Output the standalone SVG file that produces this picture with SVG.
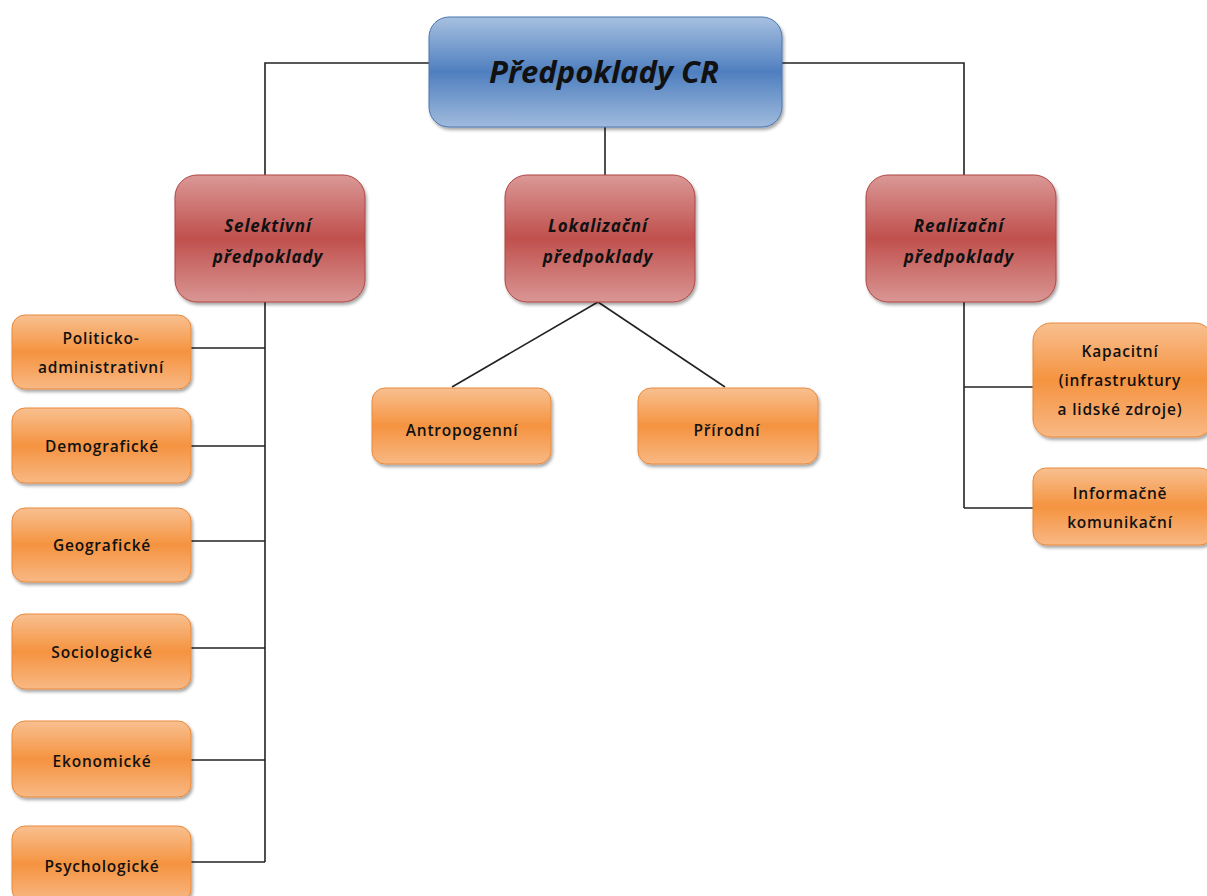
<svg xmlns="http://www.w3.org/2000/svg" width="1207" height="896" viewBox="0 0 1207 896">
<style>
.t{font-family:"Open Sans","Liberation Sans",sans-serif;fill:#111;text-anchor:middle}
.title{font-size:31px;font-weight:bold;font-style:italic}
.mid{font-size:17px;font-weight:bold;font-style:italic;letter-spacing:0.9px}
.leaf{font-size:15.5px;font-weight:600;letter-spacing:0.8px}
.conn{stroke:#222;stroke-width:1.6;fill:none}
</style>
<defs>
<linearGradient id="gb" x1="0" y1="0" x2="0" y2="1">
<stop offset="0" stop-color="#a7c0e0"/><stop offset="0.5" stop-color="#4f7fbf"/><stop offset="1" stop-color="#a0bbdd"/>
</linearGradient>
<linearGradient id="gr" x1="0" y1="0" x2="0" y2="1">
<stop offset="0" stop-color="#da9896"/><stop offset="0.5" stop-color="#c0504d"/><stop offset="1" stop-color="#d99694"/>
</linearGradient>
<linearGradient id="go" x1="0" y1="0" x2="0" y2="1">
<stop offset="0" stop-color="#f8c090"/><stop offset="0.5" stop-color="#f59340"/><stop offset="1" stop-color="#f8b884"/>
</linearGradient>
<filter id="sh" x="-10%" y="-10%" width="125%" height="130%">
<feDropShadow dx="1.5" dy="2.5" stdDeviation="1.5" flood-color="#000" flood-opacity="0.35"/>
</filter>
</defs>
<g id="connectors">
<polyline class="conn" points="429,63 265,63 265,175"/>
<polyline class="conn" points="782,63 964,63 964,175"/>
<line class="conn" x1="605" y1="127" x2="605" y2="175"/>
<line class="conn" x1="265" y1="302" x2="265" y2="862"/>
<line class="conn" x1="191" y1="348" x2="265" y2="348"/>
<line class="conn" x1="191" y1="446" x2="265" y2="446"/>
<line class="conn" x1="191" y1="541" x2="265" y2="541"/>
<line class="conn" x1="191" y1="648" x2="265" y2="648"/>
<line class="conn" x1="191" y1="760" x2="265" y2="760"/>
<line class="conn" x1="191" y1="862" x2="265" y2="862"/>
<line class="conn" x1="598" y1="302" x2="452" y2="387"/>
<line class="conn" x1="598" y1="302" x2="725" y2="387"/>
<line class="conn" x1="964" y1="302" x2="964" y2="508"/>
<line class="conn" x1="964" y1="387" x2="1033" y2="387"/>
<line class="conn" x1="964" y1="508" x2="1033" y2="508" stroke="#666" stroke-width="2.4"/>
</g>
<g id="root"><rect x="429" y="17" width="353" height="110" rx="20" fill="url(#gb)" stroke="#4a76b0" stroke-width="1" filter="url(#sh)"/><text class="t title" x="604" y="83">Předpoklady CR</text></g>
<g id="selektivni"><rect x="175" y="175" width="190" height="127" rx="22" fill="url(#gr)" stroke="#b04542" filter="url(#sh)"/><text class="t mid" x="268" y="232">Selektivní</text><text class="t mid" x="268" y="263">předpoklady</text></g>
<g id="lokalizacni"><rect x="505" y="175" width="190" height="127" rx="22" fill="url(#gr)" stroke="#b04542" filter="url(#sh)"/><text class="t mid" x="598" y="232">Lokalizační</text><text class="t mid" x="598" y="263">předpoklady</text></g>
<g id="realizacni"><rect x="866" y="175" width="190" height="127" rx="22" fill="url(#gr)" stroke="#b04542" filter="url(#sh)"/><text class="t mid" x="959" y="232">Realizační</text><text class="t mid" x="959" y="263">předpoklady</text></g>
<g id="politicko"><rect x="12" y="315" width="179" height="74" rx="13" fill="url(#go)" stroke="#e88a3c" filter="url(#sh)"/><text class="t leaf" x="101" y="344">Politicko-</text><text class="t leaf" x="101" y="373">administrativní</text></g>
<g id="demograficke"><rect x="12" y="408" width="179" height="75" rx="13" fill="url(#go)" stroke="#e88a3c" filter="url(#sh)"/><text class="t leaf" x="102" y="452">Demografické</text></g>
<g id="geograficke"><rect x="12" y="508" width="179" height="74" rx="13" fill="url(#go)" stroke="#e88a3c" filter="url(#sh)"/><text class="t leaf" x="102" y="551">Geografické</text></g>
<g id="sociologicke"><rect x="12" y="614" width="179" height="75" rx="13" fill="url(#go)" stroke="#e88a3c" filter="url(#sh)"/><text class="t leaf" x="102" y="658">Sociologické</text></g>
<g id="ekonomicke"><rect x="12" y="721" width="179" height="76" rx="13" fill="url(#go)" stroke="#e88a3c" filter="url(#sh)"/><text class="t leaf" x="102" y="767">Ekonomické</text></g>
<g id="psychologicke"><rect x="12" y="826" width="179" height="76" rx="13" fill="url(#go)" stroke="#e88a3c" filter="url(#sh)"/><text class="t leaf" x="102" y="872">Psychologické</text></g>
<g id="antropogenni"><rect x="372" y="388" width="179" height="76" rx="13" fill="url(#go)" stroke="#e88a3c" filter="url(#sh)"/><text class="t leaf" x="462" y="436">Antropogenní</text></g>
<g id="prirodni"><rect x="638" y="388" width="180" height="76" rx="13" fill="url(#go)" stroke="#e88a3c" filter="url(#sh)"/><text class="t leaf" x="727" y="436">Přírodní</text></g>
<g id="kapacitni"><rect x="1033" y="323" width="180" height="114" rx="18" fill="url(#go)" stroke="#e88a3c" filter="url(#sh)"/><text class="t leaf" x="1120" y="357">Kapacitní</text><text class="t leaf" x="1120" y="386">(infrastruktury</text><text class="t leaf" x="1120" y="415">a lidské  zdroje)</text></g>
<g id="informacne"><rect x="1033" y="468" width="180" height="77" rx="13" fill="url(#go)" stroke="#e88a3c" filter="url(#sh)"/><text class="t leaf" x="1120" y="499">Informačně</text><text class="t leaf" x="1120" y="528">komunikační</text></g>
</svg>
